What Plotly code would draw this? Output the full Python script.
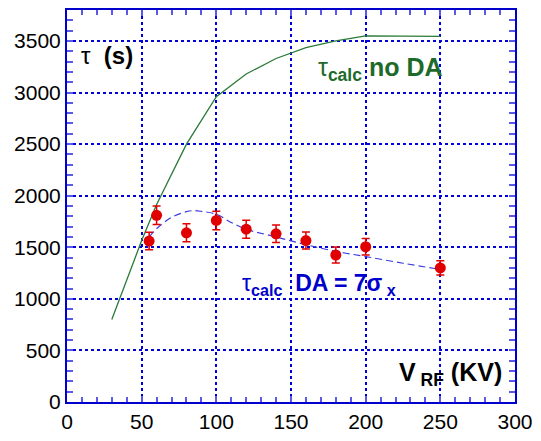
import plotly.graph_objects as go

# measured data
v_meas = [55, 60, 80, 100, 120, 140, 160, 180, 200, 250]
tau_meas = [1560, 1810, 1640, 1760, 1675, 1630, 1565, 1425, 1505, 1300]
tau_err = [85, 90, 87, 90, 87, 85, 82, 78, 80, 70]

# calculated, no dynamic aperture
v_noda = [30, 40, 50, 60, 80, 100, 120, 140, 160, 180, 200, 250]
tau_noda = [800, 1190, 1565, 1915, 2500, 2960, 3180, 3330, 3435, 3500, 3550, 3545]

# calculated, DA = 7 sigma_x
v_da = [55, 60, 70, 80, 85, 90, 100, 110, 120, 140, 160, 180, 200, 225, 250]
tau_da = [1600, 1680, 1790, 1845, 1855, 1848, 1820, 1740, 1675, 1600, 1525, 1460, 1410, 1345, 1285]

x_ticks = [0, 50, 100, 150, 200, 250, 300]
y_ticks = [0, 500, 1000, 1500, 2000, 2500, 3000, 3500]

FONT = "Liberation Sans, Arial, sans-serif"
GRID = "#0000dd"
FRAME = "#0000cc"
TICK = "#5a5ae6"
GREEN = "#1d6b2b"

fig = go.Figure()
fig.add_trace(go.Scatter(x=v_noda, y=tau_noda, mode="lines",
                         line=dict(color="#2a7a38", width=1.3)))
fig.add_trace(go.Scatter(x=v_da, y=tau_da, mode="lines", line_shape="spline",
                         line=dict(color="#3c3ce0", width=1.2, dash="7px,4px")))
fig.add_trace(go.Scatter(x=v_meas, y=tau_meas, mode="markers",
                         marker=dict(color="#e00000", size=11),
                         error_y=dict(type="data", array=tau_err, visible=True,
                                      color="#e00000", thickness=1.5, width=4)))

axis_common = dict(
    showline=True, linecolor=FRAME, linewidth=2, mirror="allticks",
    showgrid=True, gridcolor=GRID, gridwidth=2, griddash="dot",
    ticks="inside", ticklen=6, tickcolor=TICK, tickwidth=1.5,
    zeroline=False,
    tickfont=dict(family=FONT, size=21, color="black"),
)
fig.update_xaxes(range=[0, 300], tickvals=x_ticks,
                 minor=dict(dtick=10, ticks="inside", ticklen=5, tickcolor=TICK, tickwidth=1.5, showgrid=False),
                 **axis_common)
fig.update_yaxes(range=[0, 3800], tickvals=y_ticks,
                 minor=dict(dtick=100, ticks="inside", ticklen=6, tickcolor=TICK, tickwidth=1.5, showgrid=False),
                 **axis_common)

SUB = '<sub><b>calc</b></sub>'
anns = [
    dict(x=8, y=3360, text="τ&nbsp; <b>(s)</b>", font=dict(size=24, color="black")),
    dict(x=167, y=3230, text="τ" + SUB + "&nbsp;<b>no DA</b>", font=dict(size=25, color=GREEN)),
    dict(x=116, y=1140, text="τ" + SUB + "&nbsp;&nbsp;<b>DA = 7σ<sub>&nbsp;x</sub></b>", font=dict(size=23, color="#0000cc")),
    dict(x=221, y=270, text="<b>V<sub>&nbsp;RF</sub> (KV)</b>", font=dict(size=25, color="black")),
]
for a in anns:
    a["font"]["family"] = FONT
    fig.add_annotation(xref="x", yref="y", xanchor="left", yanchor="middle",
                       showarrow=False, **a)

fig.update_layout(
    width=541, height=441,
    margin=dict(l=67, r=21, t=8, b=30),
    paper_bgcolor="white", plot_bgcolor="white",
    showlegend=False,
)
fig.write_html("out.html")
